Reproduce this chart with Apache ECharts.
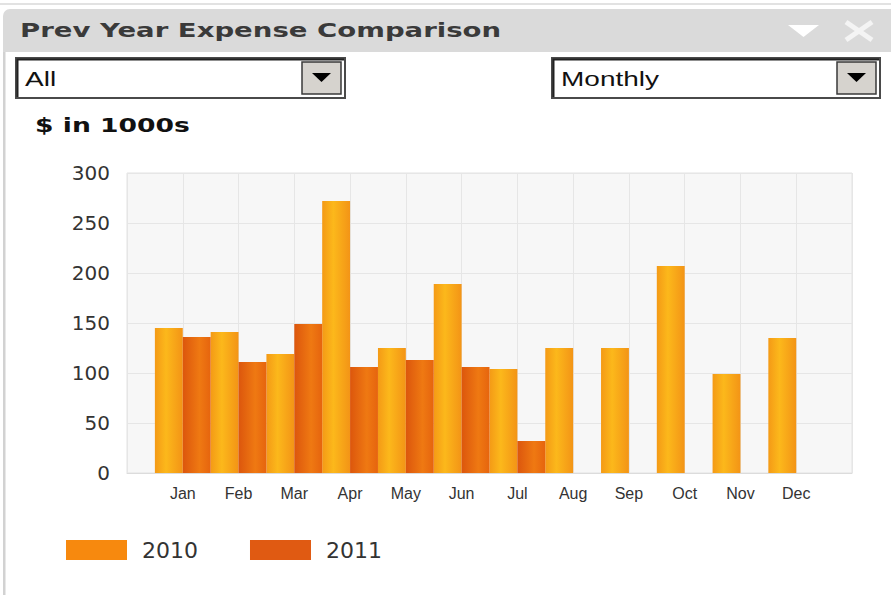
<!DOCTYPE html>
<html>
<head>
<meta charset="utf-8">
<script src="https://cdn.jsdelivr.net/npm/echarts@6/dist/echarts.min.js"></script>
<style>
html,body{margin:0;padding:0;background:#fff;}
#chart{width:891px;height:595px;}
</style>
</head>
<body>
<div id="chart"></div>
<script>
// ---- data ----
var months = ['Jan','Feb','Mar','Apr','May','Jun','Jul','Aug','Sep','Oct','Nov','Dec'];
var values2010 = [145,141,119,272,125,189,104,125,125,207,99,135];
var values2011 = [136,111,149,106,113,106,32];
var seriesNames = ['2010','2011'];
var yTicks = { min: 0, max: 300, interval: 50 };
var panelTitle = 'Prev Year Expense Comparison';
var unitLabel = '$ in 1000s';
var filterLeft = 'All';
var filterRight = 'Monthly';

// category axis padded with an empty slot at each end (bars sit on the ticks)
var axisCats = [''].concat(months, ['']);
function pad(arr) {
  var out = [null];
  for (var i = 0; i < months.length; i++) out.push(i < arr.length ? arr[i] : null);
  out.push(null);
  return out;
}

var grad2010 = new echarts.graphic.LinearGradient(0,0,1,0,[
  {offset:0,color:'#f49a16'},{offset:0.4,color:'#fcb81b'},{offset:1,color:'#f39416'}]);
var grad2011 = new echarts.graphic.LinearGradient(0,0,1,0,[
  {offset:0,color:'#dc560d'},{offset:0.6,color:'#ef7912'},{offset:1,color:'#e6640e'}]);

var chart = echarts.init(document.getElementById('chart'), null, {renderer:'svg'});

function ddBox(x, w, label) {
  return [
    {type:'rect', shape:{x:x, y:58, width:w, height:40}, style:{fill:'#fff', stroke:'#4a4a4a', lineWidth:2}, z:10},
    {type:'polyline', shape:{points:[[x+1.5,97],[x+1.5,59.5],[x+w-1,59.5]]}, style:{stroke:'#222', lineWidth:2, fill:null}, z:11},
    {type:'rect', shape:{x:x+w-43, y:62, width:39, height:32}, style:{fill:'#d6d3ce', stroke:'#3a3a3a', lineWidth:1.5}, z:11},
    {type:'polygon', shape:{points:[[x+w-33,73],[x+w-14,73],[x+w-23.5,82]]}, style:{fill:'#000'}, z:12},
    {type:'text', x:x+9, y:79, scaleX:1.4, style:{text:label, x:0, y:0, font:'20px "Liberation Sans", Arial, sans-serif', fill:'#111', verticalAlign:'middle'}, z:12}
  ];
}

var graphics = [
  {type:'line', shape:{x1:0, y1:4, x2:891, y2:4}, style:{stroke:'#e2e2e2', lineWidth:2}},
  {type:'rect', shape:{x:3, y:9, width:888, height:43, r:[7,0,0,0]}, style:{fill:'#dadada'}},
  {type:'rect', shape:{x:3, y:52, width:2.5, height:543}, style:{fill:'#d2d2d2'}},
  {type:'text', x:20, y:31, scaleX:1.45, style:{text:panelTitle, x:0, y:0, font:'bold 19px "DejaVu Sans", Verdana, sans-serif', fill:'#3a3a3a', verticalAlign:'middle'}},
  {type:'polygon', shape:{points:[[788,25],[819,25],[803.5,37]]}, style:{fill:'#fff'}},
  {type:'line', shape:{x1:846, y1:22, x2:872, y2:40}, style:{stroke:'#f4f4f4', lineWidth:5}},
  {type:'line', shape:{x1:872, y1:22, x2:846, y2:40}, style:{stroke:'#f4f4f4', lineWidth:5}},
  {type:'text', x:35, y:125, scaleX:1.4, style:{text:unitLabel, x:0, y:0, font:'bold 19px "DejaVu Sans", Verdana, sans-serif', fill:'#111', verticalAlign:'middle'}}
].concat(ddBox(16, 329, filterLeft), ddBox(552, 328, filterRight));

chart.setOption({
  animation:false,
  backgroundColor:'#fff',
  graphic: graphics,
  grid:{left:127, right:39, top:173, bottom:122, show:true, backgroundColor:'#f7f7f7', borderColor:'#e3e3e3', borderWidth:1},
  legend:{
    left:61, top:534, itemWidth:61, itemHeight:20, itemGap:52, icon:'rect',
    data:[{name:seriesNames[0], itemStyle:{color:'#f7890e'}},{name:seriesNames[1], itemStyle:{color:'#e05a12'}}],
    textStyle:{fontFamily:'"DejaVu Sans", Verdana, sans-serif', fontSize:22, color:'#333', padding:[0,0,0,10]}
  },
  xAxis:{
    type:'category', data:axisCats, boundaryGap:false,
    axisLine:{show:true, lineStyle:{color:'#dcdcdc'}},
    axisTick:{show:false},
    axisLabel:{interval:0, margin:12, fontFamily:'"Liberation Sans", Arial, sans-serif', fontSize:16, color:'#333'},
    splitLine:{show:true, interval:0, lineStyle:{color:'#e6e6e6'}}
  },
  yAxis:{
    type:'value', min:yTicks.min, max:yTicks.max, interval:yTicks.interval,
    axisLine:{show:false}, axisTick:{show:false},
    axisLabel:{margin:17, fontFamily:'"DejaVu Sans", Verdana, sans-serif', fontSize:20, color:'#333'},
    splitLine:{lineStyle:{color:'#e6e6e6'}}
  },
  series:[
    {name:seriesNames[0], type:'bar', data:pad(values2010), barGap:'0%', barCategoryGap:'0%', itemStyle:{color:grad2010}},
    {name:seriesNames[1], type:'bar', data:pad(values2011), barGap:'0%', barCategoryGap:'0%', itemStyle:{color:grad2011}}
  ]
});
</script>
</body>
</html>
